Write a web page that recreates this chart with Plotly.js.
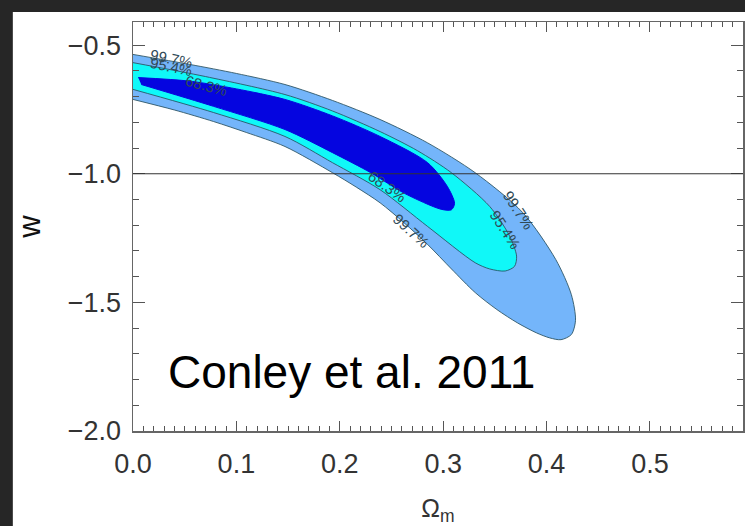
<!DOCTYPE html>
<html>
<head>
<meta charset="utf-8">
<script src="https://cdn.plot.ly/plotly-3.0.1.min.js"></script>
<style>html,body{margin:0;padding:0;background:#262626;}#chart{width:745px;height:526px;}</style>
</head>
<body>
<div id="chart"></div>
<script>
// 99.7% region boundary (Omega_m, w)
const outerOm = [0.0, 0.055, 0.100, 0.147, 0.193, 0.239, 0.285, 0.331, 0.377, 0.409, 0.424, 0.428, 0.424, 0.414, 0.403, 0.390, 0.372, 0.352, 0.331, 0.308, 0.285, 0.262, 0.239, 0.216, 0.193, 0.147, 0.110, 0.078, 0.040, 0.0];
const outerW  = [-0.536, -0.575, -0.610, -0.653, -0.715, -0.789, -0.880, -0.996, -1.151, -1.334, -1.47, -1.57, -1.625, -1.645, -1.638, -1.618, -1.58, -1.528, -1.462, -1.37, -1.275, -1.190, -1.113, -1.052, -0.996, -0.894, -0.840, -0.797, -0.752, -0.711];
// 95.4% region boundary
const midOm = [0.0, 0.070, 0.147, 0.193, 0.239, 0.275, 0.308, 0.345, 0.364, 0.371, 0.369, 0.360, 0.345, 0.331, 0.285, 0.239, 0.193, 0.147, 0.078, 0.0];
const midW  = [-0.568, -0.622, -0.692, -0.756, -0.836, -0.910, -0.996, -1.127, -1.240, -1.320, -1.360, -1.378, -1.370, -1.346, -1.205, -1.062, -0.957, -0.855, -0.762, -0.672];
// 68.3% region boundary
const innerOm = [0.005, 0.055, 0.100, 0.147, 0.193, 0.239, 0.285, 0.304, 0.311, 0.308, 0.298, 0.262, 0.230, 0.193, 0.147, 0.078, 0.008];
const innerW  = [-0.626, -0.640, -0.670, -0.711, -0.775, -0.855, -0.957, -1.049, -1.115, -1.140, -1.138, -1.075, -0.996, -0.918, -0.828, -0.738, -0.653];

// contour labels
const labelText  = ["99.7%", "95.4%", "68.3%", "68.3%", "99.7%", "99.7%", "95.4%"];
const labelOm    = [0.037, 0.037, 0.071, 0.246, 0.269, 0.373, 0.360];
const labelW     = [-0.552, -0.582, -0.657, -1.049, -1.221, -1.143, -1.217];
const labelAngle = [12, 12, 15, 35, 42, 57, 57];

const xTickVals = [0.0, 0.1, 0.2, 0.3, 0.4, 0.5];
const yTickVals = [-2.0, -1.5, -1.0, -0.5];
const refW = -1.0;
const credit = "Conley et al. 2011";

const edge = 'rgba(40,80,95,0.85)';
const traces = [
  {x: outerOm, y: outerW, mode: 'lines', fill: 'toself', fillcolor: '#74b5fa', line: {color: edge, width: 1, shape: 'spline', smoothing: 0.8}, hoverinfo: 'skip'},
  {x: midOm, y: midW, mode: 'lines', fill: 'toself', fillcolor: '#10f8f8', line: {color: edge, width: 1, shape: 'spline', smoothing: 0.8}, hoverinfo: 'skip'},
  {x: innerOm, y: innerW, mode: 'lines', fill: 'toself', fillcolor: '#0505e0', line: {color: '#0505e0', width: 1, shape: 'spline', smoothing: 0.8}, hoverinfo: 'skip'}
];

const annotations = labelText.map((t, i) => ({
  x: labelOm[i], y: labelW[i], xref: 'x', yref: 'y', text: t, showarrow: false,
  textangle: labelAngle[i], font: {family: 'Liberation Sans, Arial, sans-serif', size: 15, color: '#304a56'}
}));
annotations.push({
  x: 0.032, y: -1.77, xref: 'x', yref: 'y', xanchor: 'left', yanchor: 'middle', text: credit, showarrow: false,
  font: {family: 'Liberation Sans, Arial, sans-serif', size: 46, color: '#000'}
});

const tickFont = {family: 'Liberation Sans, Arial, sans-serif', size: 27, color: '#333'};
const layout = {
  width: 745, height: 526,
  margin: {l: 133, r: 2, t: 22, b: 95},
  paper_bgcolor: '#262626', plot_bgcolor: '#ffffff',
  showlegend: false,
  xaxis: {
    range: [0, 0.59], tickvals: xTickVals, tickformat: '.1f', ticks: 'inside', ticklen: 10, tickwidth: 1, tickcolor: '#555',
    minor: {dtick: 0.01, ticks: 'inside', ticklen: 5, tickcolor: '#555', showgrid: false},
    showline: true, linecolor: '#666', linewidth: 1.5, mirror: 'ticks', showgrid: false, zeroline: false,
    tickfont: tickFont, ticklabelstandoff: 8,
    title: {text: 'Ω<sub>m</sub>', font: {family: 'Liberation Sans, Arial, sans-serif', size: 25, color: '#333'}, standoff: 25}
  },
  yaxis: {
    range: [-2.0, -0.41], tickvals: yTickVals, tickformat: '.1f', ticks: 'inside', ticklen: 12, tickwidth: 1, tickcolor: '#555',
    minor: {dtick: 0.1, ticks: 'inside', ticklen: 6, tickcolor: '#555', showgrid: false},
    showline: true, linecolor: '#666', linewidth: 1.5, mirror: 'ticks', showgrid: false, zeroline: false,
    tickfont: tickFont, ticklabelstandoff: 5,
    title: {text: 'w', font: {family: 'Liberation Sans, Arial, sans-serif', size: 31, color: '#111'}, standoff: 18}
  },
  shapes: [
    {type: 'rect', xref: 'paper', yref: 'paper', x0: -0.197, x1: 1.01, y0: -0.25, y1: 1.0244, fillcolor: '#ffffff', line: {width: 0}, layer: 'below'},
    {type: 'line', xref: 'paper', yref: 'y', x0: 0, x1: 1, y0: refW, y1: refW, line: {color: '#333', width: 1.2}, layer: 'above'}
  ],
  annotations: annotations
};

Plotly.newPlot('chart', traces, layout, {displayModeBar: false, staticPlot: true});
</script>
</body>
</html>
